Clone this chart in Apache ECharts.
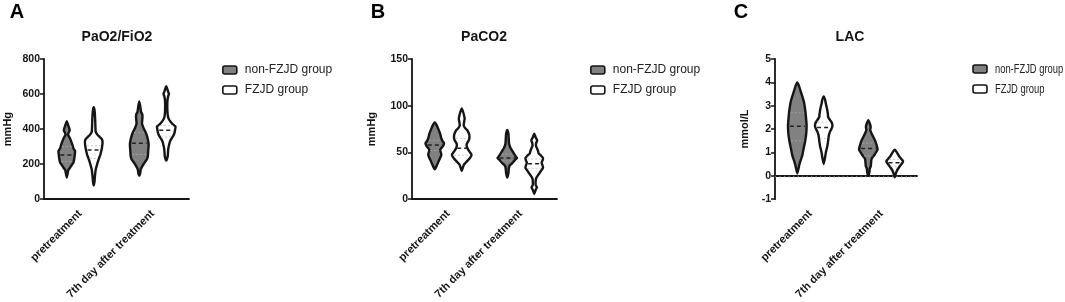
<!DOCTYPE html>
<html><head><meta charset="utf-8">
<script src="https://cdn.jsdelivr.net/npm/echarts@6/dist/echarts.min.js"></script>
<style>html,body{margin:0;padding:0;background:#fff}#c{width:1065px;height:302px}</style>
</head><body><div id="c"></div>
<script>
const categories = ['pretreatment', '7th day after treatment'];
const groups = ['non-FZJD group', 'FZJD group'];
const panelTitles = ['PaO2/FiO2', 'PaCO2', 'LAC'];
const panelLetters = ['A', 'B', 'C'];
const yNames = ['mmHg', 'mmHg', 'mmol/L'];
const yMin = [0, 0, -1];
const yMax = [800, 150, 5];
const yInterval = [200, 50, 1];

// Violin outlines: [value, relative density width]
const pao2_ctrl_pre = [[445,0],[430,0.1],[405,0.25],[393,0.3],[380,0.2],[369,0.12],[350,0.3],[330,0.45],[310,0.58],[291,0.67],[274,0.85],[255,0.82],[235,0.78],[207,0.67],[190,0.45],[179,0.33],[165,0.15],[150,0.1],[123,0]];
const pao2_ctrl_7d = [[558,0],[530,0.1],[498,0.18],[485,0.3],[470,0.33],[450,0.3],[431,0.28],[410,0.4],[393,0.55],[375,0.7],[358,0.8],[340,0.88],[319,0.95],[300,0.95],[281,0.92],[262,0.9],[246,0.88],[230,0.8],[218,0.67],[205,0.5],[190,0.33],[170,0.15],[150,0.1],[134,0]];
const pao2_fzjd_pre = [[525,0],[500,0.1],[450,0.15],[400,0.18],[386,0.2],[370,0.35],[358,0.55],[345,0.8],[330,0.9],[310,0.88],[291,0.83],[270,0.75],[252,0.67],[235,0.55],[218,0.45],[190,0.3],[168,0.2],[130,0.12],[100,0.08],[78,0]];
const pao2_fzjd_7d = [[645,0],[630,0.1],[612,0.2],[600,0.28],[588,0.2],[560,0.12],[500,0.12],[470,0.18],[459,0.25],[445,0.4],[431,0.6],[414,0.95],[395,0.9],[375,0.83],[360,0.7],[347,0.55],[333,0.42],[319,0.33],[300,0.25],[291,0.22],[270,0.18],[245,0.15],[220,0]];

const paco2_ctrl_pre = [[82,0],[80,0.15],[75.5,0.35],[70,0.55],[65,0.67],[62,0.8],[60,0.95],[57,0.85],[55,0.7],[52.8,0.55],[50,0.62],[47.5,0.67],[44,0.55],[42,0.45],[39,0.33],[37,0.25],[34,0.12],[32,0]];
const paco2_ctrl_7d = [[74,0],[70,0.12],[65,0.15],[60,0.18],[57,0.25],[54.5,0.35],[52,0.5],[49,0.67],[46,0.85],[44,1.0],[42,0.8],[39,0.55],[37,0.35],[35.5,0.22],[32,0.15],[28,0.12],[23,0]];
const paco2_fzjd_pre = [[97,0],[93,0.15],[89,0.25],[86,0.3],[83,0.25],[79,0.2],[76,0.35],[74,0.55],[71,0.7],[68.5,0.78],[65,0.78],[63,0.72],[60,0.55],[58,0.5],[55,0.55],[52.8,0.67],[50,0.85],[47.5,1.0],[45,0.9],[42,0.67],[39,0.4],[37,0.22],[34,0.12],[30,0]];
const paco2_fzjd_7d = [[70,0],[66,0.15],[63,0.3],[60,0.2],[57,0.18],[54.5,0.28],[52,0.38],[49,0.45],[46.5,0.7],[44,0.9],[41.5,0.85],[39,0.75],[36,0.85],[33.6,0.9],[31,0.75],[28,0.55],[25.5,0.38],[23,0.22],[20,0.15],[15,0.15],[12.6,0.28],[10,0.15],[5.5,0]];

const lac_ctrl_pre = [[4.0,0],[3.85,0.18],[3.65,0.33],[3.37,0.55],[3.15,0.7],[2.95,0.78],[2.75,0.85],[2.53,0.9],[2.3,0.95],[2.11,0.97],[1.9,0.95],[1.69,0.9],[1.48,0.82],[1.27,0.72],[1.1,0.63],[0.92,0.55],[0.78,0.45],[0.64,0.33],[0.45,0.2],[0.3,0.12],[0.1,0]];
const lac_ctrl_7d = [[2.38,0],[2.25,0.15],[2.1,0.25],[1.95,0.2],[1.82,0.33],[1.68,0.5],[1.54,0.67],[1.4,0.8],[1.26,0.9],[1.12,0.97],[1.0,0.8],[0.91,0.67],[0.8,0.45],[0.7,0.33],[0.6,0.3],[0.49,0.28],[0.4,0.25],[0.3,0.15],[0.15,0.12],[0.0,0]];
const lac_fzjd_pre = [[3.4,0],[3.25,0.15],[3.09,0.22],[2.9,0.33],[2.74,0.4],[2.6,0.45],[2.53,0.45],[2.42,0.6],[2.32,0.78],[2.2,0.9],[2.11,0.9],[2.0,0.8],[1.9,0.67],[1.75,0.55],[1.62,0.5],[1.45,0.45],[1.27,0.38],[1.1,0.28],[0.99,0.22],[0.8,0.15],[0.5,0]];
const lac_fzjd_7d = [[1.12,0],[1.05,0.15],[0.95,0.3],[0.84,0.45],[0.74,0.65],[0.63,0.87],[0.55,0.8],[0.42,0.55],[0.3,0.35],[0.21,0.22],[0.1,0.12],[-0.07,0]];

// medians and quartiles per group: [pretreatment, 7th day]
const pao2_ctrl_median = [252, 319], pao2_ctrl_q1 = [215, 255], pao2_ctrl_q3 = [300, 380];
const pao2_fzjd_median = [281, 393], pao2_fzjd_q1 = [232, 355], pao2_fzjd_q3 = [305, 420];
const paco2_ctrl_median = [58, 44], paco2_ctrl_q1 = [52, 41], paco2_ctrl_q3 = [63, 48];
const paco2_fzjd_median = [54.5, 38], paco2_fzjd_q1 = [47, 33], paco2_fzjd_q3 = [65, 43];
const lac_ctrl_median = [2.12, 1.17], lac_ctrl_q1 = [1.5, 0.85], lac_ctrl_q3 = [2.7, 1.4];
const lac_fzjd_median = [2.07, 0.56], lac_fzjd_q1 = [1.6, 0.4], lac_fzjd_q3 = [2.3, 0.7];

const panels = [
  {ctrl: [pao2_ctrl_pre, pao2_ctrl_7d], fzjd: [pao2_fzjd_pre, pao2_fzjd_7d],
   ctrlStats: [pao2_ctrl_median, pao2_ctrl_q1, pao2_ctrl_q3], fzjdStats: [pao2_fzjd_median, pao2_fzjd_q1, pao2_fzjd_q3]},
  {ctrl: [paco2_ctrl_pre, paco2_ctrl_7d], fzjd: [paco2_fzjd_pre, paco2_fzjd_7d],
   ctrlStats: [paco2_ctrl_median, paco2_ctrl_q1, paco2_ctrl_q3], fzjdStats: [paco2_fzjd_median, paco2_fzjd_q1, paco2_fzjd_q3]},
  {ctrl: [lac_ctrl_pre, lac_ctrl_7d], fzjd: [lac_fzjd_pre, lac_fzjd_7d],
   ctrlStats: [lac_ctrl_median, lac_ctrl_q1, lac_ctrl_q3], fzjdStats: [lac_fzjd_median, lac_fzjd_q1, lac_fzjd_q3]}
];

const FONT = "'Liberation Sans', Arial, sans-serif";
const INK = '#151515';
const GRAY = '#818181';
const gridLeft = [44, 412, 775];
const gridWidth = [145, 145, 142];
const nameGaps = [31, 35, 25];
const legendLeft = [222, 590, 973];
const titleX = [117, 484, 850];
const letterX = [17, 378, 741];
const OFFSET = 0.186, HALF = 0.135;

function widthAt(prof, v) {
  for (let i = 0; i < prof.length - 1; i++) {
    const a = prof[i], b = prof[i + 1];
    if ((v <= a[0] && v >= b[0])) {
      const t = (a[0] - v) / (a[0] - b[0] || 1);
      return a[1] + t * (b[1] - a[1]);
    }
  }
  return 0;
}

function violinSeries(p, gi) {
  const profs = gi === 0 ? panels[p].ctrl : panels[p].fzjd;
  const stats = gi === 0 ? panels[p].ctrlStats : panels[p].fzjdStats;
  return {
    type: 'custom', name: groups[gi], xAxisIndex: p, yAxisIndex: p, z: 3,
    data: categories.map((c, i) => [i]),
    renderItem: function (params, api) {
      const ci = api.value(0);
      const prof = profs[params.dataIndex];
      const band = api.size([1, 0])[0];
      const cx = api.coord([ci, 0])[0] + (gi === 0 ? -1 : 1) * OFFSET * band;
      const half = HALF * band;
      const left = [], right = [];
      prof.forEach(([v, w]) => {
        const y = api.coord([ci, v])[1];
        left.push([cx - w * half, y]);
        right.push([cx + w * half, y]);
      });
      const pts = left.concat(right.slice(1, -1).reverse());
      const children = [{
        type: 'polygon', shape: {points: pts, smooth: 0.15},
        style: {fill: gi === 0 ? GRAY : '#fff', stroke: INK, lineWidth: 2.4, lineJoin: 'round'}
      }];
      const lines = [[stats[1][params.dataIndex], 'q'], [stats[2][params.dataIndex], 'q'], [stats[0][params.dataIndex], 'm']];
      lines.forEach(([v, kind]) => {
        const w = widthAt(prof, v) * half * 0.8;
        const y = api.coord([ci, v])[1];
        children.push({
          type: 'line', shape: {x1: cx - w, y1: y, x2: cx + w, y2: y},
          style: kind === 'm'
            ? {stroke: '#222', lineWidth: 1.5, lineDash: [4, 3]}
            : {stroke: gi === 0 ? '#a0a0a0' : '#c8c8c8', lineWidth: 1, lineDash: [2, 2]}
        });
      });
      return {type: 'group', children: children};
    },
    markLine: (p === 2 && gi === 0) ? {
      silent: true, symbol: 'none', label: {show: false}, z: 1,
      lineStyle: {color: '#777', type: [1.2, 3.3], width: 1.3},
      emphasis: {disabled: true},
      data: [{yAxis: 0}]
    } : undefined
  };
}

function legendGraphic(p) {
  // panel C legend is horizontally condensed in the reference figure
  const x = legendLeft[p];
  return [0, 1].flatMap(i => [
    {type: 'rect', shape: {x: x, y: 65 + i * 20, width: 14, height: 8, r: 2},
     style: {fill: i === 0 ? GRAY : '#fff', stroke: INK, lineWidth: 1.6}},
    {type: 'text', x: x + 22, y: 69.5 + i * 20, scaleX: 0.78,
     style: {text: groups[i], font: '12px ' + FONT, fill: '#222', textVerticalAlign: 'middle'}}
  ]);
}

const option = {
  animation: false,
  textStyle: {fontFamily: FONT},
  grid: [0, 1, 2].map(p => ({left: gridLeft[p], top: 59, width: gridWidth[p], height: 143})),
  xAxis: [0, 1, 2].map(p => ({
    type: 'category', gridIndex: p, data: categories,
    axisLine: {lineStyle: {color: INK, width: 1.8}},
    axisTick: {alignWithLabel: true, length: 5, lineStyle: {color: INK, width: 1.5}},
    axisLabel: {rotate: 45, margin: 13, color: INK, fontSize: 11, fontWeight: 'bold', fontFamily: FONT},
    splitLine: {show: false}
  })),
  yAxis: [0, 1, 2].map(p => ({
    type: 'value', gridIndex: p, min: yMin[p], max: yMax[p], interval: yInterval[p],
    name: yNames[p], nameLocation: 'middle', nameGap: nameGaps[p],
    nameTextStyle: {color: INK, fontSize: 11, fontWeight: 'bold', fontFamily: FONT},
    axisLine: {show: true, lineStyle: {color: INK, width: 1.8}},
    axisTick: {show: true, length: 4, lineStyle: {color: INK, width: 1.5}},
    axisLabel: {color: INK, fontSize: 10.5, fontWeight: 'bold', margin: 4, fontFamily: FONT},
    splitLine: {show: false}
  })),
  legend: [0, 1].map(p => ({
    orient: 'vertical', left: legendLeft[p], top: 64, itemWidth: 14, itemHeight: 8, itemGap: 8,
    selectedMode: false, icon: 'roundRect', padding: 0,
    textStyle: {fontSize: 12, color: '#222', fontFamily: FONT, padding: [0, 0, 0, 3]},
    data: [
      {name: groups[0], itemStyle: {color: GRAY, borderColor: INK, borderWidth: 1.6}},
      {name: groups[1], itemStyle: {color: '#fff', borderColor: INK, borderWidth: 1.6}}
    ]
  })),
  graphic: [0, 1, 2].flatMap(p => [
    {type: 'text', x: titleX[p], y: 37, style: {text: panelTitles[p], font: "bold 14px " + FONT, fill: INK, textAlign: 'center', textVerticalAlign: 'middle'}},
    {type: 'text', x: letterX[p], y: 12, style: {text: panelLetters[p], font: "bold 20px " + FONT, fill: '#000', textAlign: 'center', textVerticalAlign: 'middle'}}
  ]).concat(legendGraphic(2)),
  series: [0, 1, 2].flatMap(p => [violinSeries(p, 0), violinSeries(p, 1)])
};

const chart = echarts.init(document.getElementById('c'), null, {renderer: 'canvas'});
chart.setOption(option);
</script>
</body></html>
